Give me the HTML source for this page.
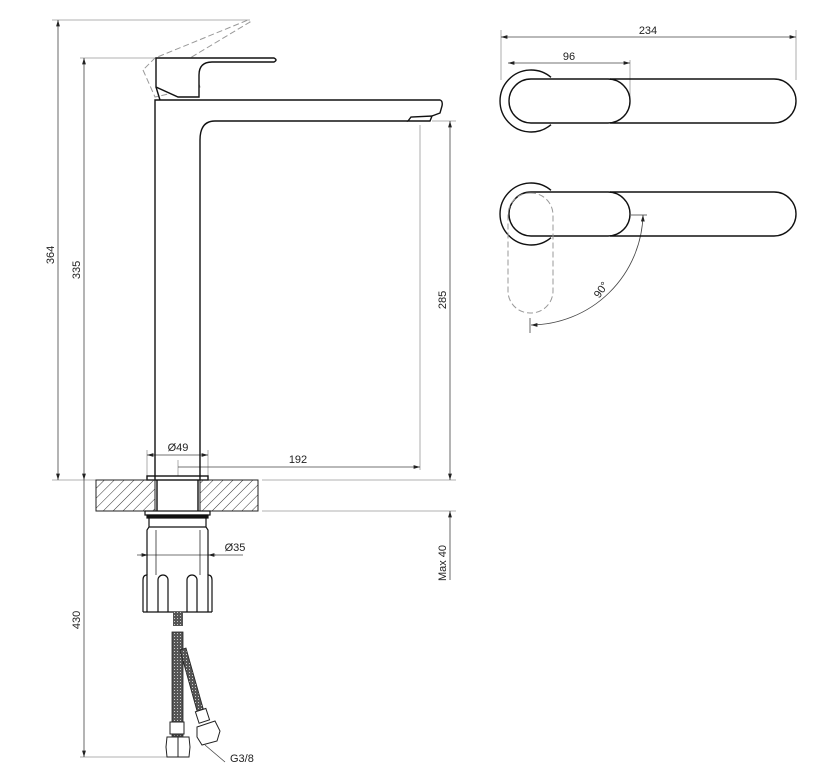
<!DOCTYPE html>
<html><head><meta charset="utf-8"><style>body{margin:0;background:#fff}svg{display:block}text{font-family:"Liberation Sans",sans-serif;font-size:11px;fill:#222}</style></head><body>
<svg width="822" height="777" viewBox="0 0 822 777" xmlns="http://www.w3.org/2000/svg">
<defs>
<pattern id="h" width="7" height="7" patternUnits="userSpaceOnUse" patternTransform="rotate(45)"><line x1="0" y1="0" x2="0" y2="7" stroke="#333" stroke-width="1"/></pattern>
<pattern id="braid" width="3" height="3" patternUnits="userSpaceOnUse"><rect width="3" height="3" fill="#555"/><rect width="1" height="1" fill="#ccc"/></pattern>
<marker id="a" viewBox="0 0 10 6" refX="10" refY="3" markerWidth="8" markerHeight="5" orient="auto-start-reverse"><path d="M0,0L10,3L0,6z" fill="#222"/></marker>
</defs>
<g stroke="#999" stroke-width="0.8" fill="none">
<line x1="52" y1="20" x2="250" y2="20"/><line x1="80" y1="58" x2="155" y2="58"/>
<line x1="52" y1="480" x2="96" y2="480"/><line x1="262" y1="480" x2="456" y2="480"/><line x1="262" y1="511" x2="456" y2="511"/>
<line x1="432" y1="121" x2="456" y2="121"/><line x1="420" y1="125" x2="420" y2="470"/>
<line x1="147" y1="450" x2="147" y2="476"/><line x1="208" y1="450" x2="208" y2="476"/>
<line x1="178" y1="460" x2="178" y2="476"/>
<line x1="80" y1="757" x2="170" y2="757"/>
<line x1="501" y1="30" x2="501" y2="80"/><line x1="796" y1="30" x2="796" y2="80"/>
<line x1="630" y1="60" x2="630" y2="100"/>
</g>
<g stroke="#444" stroke-width="0.8" fill="none">
<line x1="58" y1="20" x2="58" y2="480" marker-start="url(#a)" marker-end="url(#a)"/>
<line x1="84" y1="58" x2="84" y2="480" marker-start="url(#a)" marker-end="url(#a)"/>
<line x1="84" y1="480" x2="84" y2="757" marker-end="url(#a)"/>
<line x1="450" y1="121" x2="450" y2="480" marker-start="url(#a)" marker-end="url(#a)"/>
<line x1="450" y1="580" x2="450" y2="511" marker-end="url(#a)"/>
<line x1="147" y1="455" x2="208" y2="455" marker-start="url(#a)" marker-end="url(#a)"/>
<line x1="178" y1="467" x2="420" y2="467" marker-end="url(#a)"/>
<line x1="137" y1="555" x2="243" y2="555"/>
<line x1="140" y1="555" x2="148" y2="555" marker-end="url(#a)"/><line x1="216" y1="555" x2="208" y2="555" marker-end="url(#a)"/>
<line x1="501" y1="37" x2="796" y2="37" marker-start="url(#a)" marker-end="url(#a)"/>
<line x1="508" y1="63" x2="630" y2="63" marker-start="url(#a)" marker-end="url(#a)"/>
<line x1="631" y1="215" x2="647" y2="215"/><line x1="530" y1="318" x2="530" y2="333"/>
<path d="M643,215 A113,113 0 0 1 531,325" marker-start="url(#a)" marker-end="url(#a)"/>
<line x1="205" y1="745" x2="225" y2="762"/>
</g>
<text x="0" y="0" transform="translate(54,255) rotate(-90)" text-anchor="middle">364</text>
<text x="0" y="0" transform="translate(80,270) rotate(-90)" text-anchor="middle">335</text>
<text x="0" y="0" transform="translate(80,620) rotate(-90)" text-anchor="middle">430</text>
<text x="0" y="0" transform="translate(446,300) rotate(-90)" text-anchor="middle">285</text>
<text x="0" y="0" transform="translate(446,563) rotate(-90)" text-anchor="middle">Max 40</text>
<text x="178" y="451" text-anchor="middle">Ø49</text>
<text x="298" y="463" text-anchor="middle">192</text>
<text x="235" y="551" text-anchor="middle">Ø35</text>
<text x="648" y="34" text-anchor="middle">234</text>
<text x="569" y="60" text-anchor="middle">96</text>
<text x="0" y="0" transform="translate(604,292) rotate(-55)" text-anchor="middle">90°</text>
<text x="230" y="762">G3/8</text>
<g stroke="#999" stroke-width="1" fill="none" stroke-dasharray="6,3">
<path d="M143,70 L155,97 L200,87 L190,58 L250,22 L248,20 L155,58 Z"/>
<path d="M190,58 L198,80"/>
</g>
<g stroke="#111" stroke-width="1.4" fill="none">
<path d="M156,58 L156,87 L178,97 L199,97 L199,75 Q199,62 212,62 L274,62 Q278,60 274,58 Z" fill="#fff"/>
<path d="M160,100 L156,87"/>
<path d="M155,480 L155,100 L440,100 Q443,101 442,106 L440,113 L432,116"/>
<path d="M200,480 L200,140 Q200,121 215,121 L408,121"/>
<path d="M408,121 L411,117 L432,116 L430,121 Z"/>
<rect x="147" y="476" width="61" height="4"/>
<line x1="157" y1="480" x2="157" y2="511"/><line x1="198" y1="480" x2="198" y2="511"/>
</g>
<rect x="96" y="480" width="59" height="31" fill="url(#h)" stroke="#222"/>
<rect x="200" y="480" width="58" height="31" fill="url(#h)" stroke="#222"/>
<g stroke="#111" stroke-width="1.2" fill="none">
<rect x="145" y="511" width="65" height="4"/>
<rect x="147" y="515" width="61" height="3" fill="#111"/>
<path d="M149,518 L149,527 L147,530 L147,575 M206,518 L206,527 L208,530 L208,575"/>
<line x1="149" y1="527" x2="206" y2="527"/>
<line x1="156" y1="530" x2="156" y2="575" stroke-width="0.7"/><line x1="200" y1="530" x2="200" y2="575" stroke-width="0.7"/>
<path d="M143,612 L143,580 Q143,575 147,575 L147,612 M212,612 L212,580 Q212,575 208,575 L208,612"/>
<line x1="143" y1="612" x2="212" y2="612"/>
<path d="M158,612 L158,580 A5,5 0 0 1 168,580 L168,612 M187,612 L187,580 A5,5 0 0 1 197,580 L197,612"/>
</g>
<rect x="173" y="612" width="10" height="14" fill="url(#braid)"/>
<rect x="172" y="632" width="11" height="104" fill="url(#braid)" stroke="#222" stroke-width="0.8"/>
<path d="M180,650 L186,648 L205,715 L199,718 Z" fill="url(#braid)" stroke="#222" stroke-width="0.8"/>
<g stroke="#222" stroke-width="1" fill="#fff">
<rect x="170" y="722" width="14" height="12"/>
<path d="M167,737 L189,737 L190,747 L189,757 L167,757 L166,747 Z"/>
<line x1="178" y1="737" x2="178" y2="757"/>
<rect x="197" y="710" width="11" height="12" transform="rotate(-18 202 716)"/>
<path d="M197,727 L215,721 L220,731 L217,741 L202,745 L197,737 Z"/>
</g>
<g stroke="#111" stroke-width="1.4" fill="none">
<path d="M551,77.3 A31,31 0 1 0 551,124.7"/>
<path d="M610,79 L774,79 A22,22 0 0 1 774,123 L610,123"/>
<rect x="509" y="79" width="121" height="44" rx="22"/>
<path d="M551,190.3 A31,31 0 1 0 551,237.7"/>
<path d="M610,192 L774,192 A22,22 0 0 1 774,236 L610,236"/>
<rect x="509" y="192" width="121" height="44" rx="22"/>
</g>
<rect x="508" y="193" width="45" height="120" rx="22" fill="none" stroke="#999" stroke-width="1" stroke-dasharray="6,3"/>
</svg>
</body></html>
